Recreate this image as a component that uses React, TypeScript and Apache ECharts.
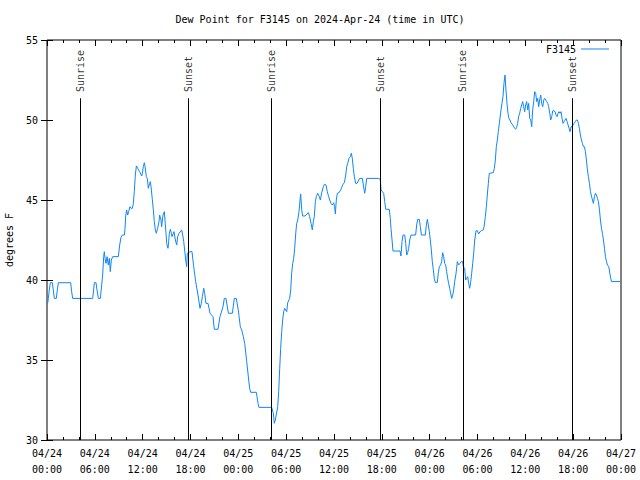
import React, { useEffect, useRef } from 'react';
import * as echarts from 'echarts';

const titleText = 'Dew Point for F3145 on 2024-Apr-24 (time in UTC)';
const seriesName = 'F3145';
const yAxisName = 'degrees F';

const xTickLabels = [
  '04/24\n00:00', '04/24\n06:00', '04/24\n12:00', '04/24\n18:00',
  '04/25\n00:00', '04/25\n06:00', '04/25\n12:00', '04/25\n18:00',
  '04/26\n00:00', '04/26\n06:00', '04/26\n12:00', '04/26\n18:00',
  '04/27\n00:00',
];

// hours since 2024-04-24 00:00 UTC
const hours = [
  0.08, 0.17, 0.29, 0.42, 0.67, 0.79, 0.92, 1.17, 1.3, 1.42, 2.97, 3.09, 3.22, 5.73, 5.85, 5.94, 6.15, 6.27, 6.44, 6.69,
  6.86, 6.98, 7.11, 7.19, 7.28, 7.4, 7.53, 7.69, 7.82, 7.94, 8.07, 8.24, 8.95, 9.12, 9.28, 9.45, 9.7, 9.78, 9.87, 9.99,
  10.12, 10.24, 10.41, 10.54, 10.7, 10.83, 10.95, 11.08, 11.21, 11.37, 11.62, 11.88, 11.96, 12.08, 12.21, 12.29, 12.46, 12.58, 12.71, 12.88,
  12.96, 13.05, 13.21, 13.34, 13.46, 13.59, 13.71, 13.88, 14.05, 14.13, 14.3, 14.38, 14.55, 14.72, 14.8, 14.93, 15.01, 15.18, 15.26, 15.35,
  15.47, 15.6, 15.68, 15.93, 16.1, 16.27, 16.39, 16.56, 16.9, 17.02, 17.15, 17.4, 17.52, 17.6, 17.94, 18.19, 18.4, 18.65, 18.94, 19.19,
  19.36, 19.49, 19.66, 19.78, 19.94, 20.2, 20.45, 20.82, 20.99, 21.45, 21.7, 22.08, 22.24, 22.45, 22.75, 23.25, 23.5, 23.75, 24.0, 24.25,
  24.42, 24.63, 24.8, 25.05, 25.3, 25.42, 25.55, 26.26, 26.47, 26.59, 28.18, 28.39, 28.51, 28.64, 28.94, 29.06, 29.19, 29.31, 29.44, 29.56,
  29.69, 29.81, 30.07, 30.19, 30.44, 30.57, 30.69, 30.82, 30.94, 31.07, 31.2, 31.32, 31.45, 31.61, 31.74, 31.82, 31.95, 32.07, 32.36, 32.78,
  32.95, 33.12, 33.28, 33.41, 33.53, 33.66, 33.78, 33.95, 34.16, 34.29, 34.46, 34.66, 34.79, 35.0, 35.16, 35.33, 35.46, 35.62, 35.79, 35.96,
  36.08, 36.17, 36.29, 36.42, 36.63, 36.84, 37.0, 37.13, 37.3, 37.47, 37.59, 37.72, 37.88, 38.05, 38.17, 38.3, 38.42, 38.55, 38.72, 38.89,
  39.22, 39.55, 39.68, 39.85, 39.98, 40.1, 41.56, 41.81, 41.9, 42.06, 42.23, 42.36, 42.49, 42.94, 43.06, 43.15, 43.28, 43.4, 44.28, 44.4,
  44.53, 44.66, 44.87, 45.0, 45.12, 45.24, 45.37, 45.5, 45.66, 46.24, 46.37, 46.5, 46.71, 46.83, 46.96, 47.46, 47.58, 47.71, 47.83, 47.96,
  48.08, 48.21, 48.33, 48.46, 48.58, 48.71, 48.96, 49.08, 49.21, 49.38, 49.5, 49.63, 49.76, 49.88, 50.0, 50.13, 50.26, 50.38, 50.51, 50.63,
  50.76, 50.89, 51.01, 51.14, 51.31, 51.47, 51.64, 51.81, 51.97, 52.14, 52.22, 52.39, 52.52, 52.64, 52.77, 52.89, 53.02, 53.15, 53.27, 53.4,
  53.52, 53.65, 53.81, 53.98, 54.15, 54.31, 54.48, 54.73, 54.86, 54.98, 55.11, 55.23, 55.36, 55.48, 55.99, 56.11, 56.24, 56.36, 56.49, 56.61,
  56.74, 56.95, 57.07, 57.2, 57.32, 57.45, 57.57, 57.7, 57.82, 57.95, 58.07, 58.2, 58.33, 58.49, 58.66, 58.79, 58.91, 59.04, 59.16, 59.29,
  59.42, 59.54, 59.67, 59.79, 59.92, 60.04, 60.17, 60.3, 60.42, 60.55, 60.67, 60.8, 60.92, 61.05, 61.17, 61.3, 61.43, 61.55, 61.68, 61.8,
  61.93, 62.05, 62.18, 62.31, 62.43, 62.56, 62.68, 62.81, 62.93, 63.06, 63.18, 63.31, 63.44, 63.56, 63.73, 63.85, 63.98, 64.11, 64.23, 64.36,
  64.48, 64.61, 64.73, 64.86, 64.98, 65.11, 65.24, 65.36, 65.49, 65.61, 65.74, 65.86, 65.99, 66.12, 66.28, 66.41, 66.53, 66.66, 66.78, 66.91,
  67.04, 67.16, 67.29, 67.41, 67.54, 67.66, 67.79, 67.91, 68.04, 68.17, 68.29, 68.42, 68.54, 68.67, 68.79, 68.92, 69.05, 69.17, 69.3, 69.42,
  69.55, 69.67, 69.8, 69.93, 70.05, 70.18, 70.3, 70.47, 70.6, 70.72, 70.8, 71.93,
];

const dewPointF = [
  38.54, 38.85, 39.38, 39.83, 39.83, 39.38, 38.85, 38.85, 39.38, 39.83, 39.83, 39.27, 38.85, 38.85, 39.38, 39.83, 39.83, 39.38, 38.85, 38.85,
  39.69, 40.31, 41.46, 41.77, 41.35, 41.04, 41.46, 40.94, 41.35, 40.52, 41.25, 41.46, 41.46, 42.19, 42.67, 42.81, 42.81, 43.17, 44.0, 44.38,
  44.06, 44.27, 44.58, 44.48, 44.48, 44.79, 45.52, 46.56, 47.13, 46.98, 46.77, 46.5, 46.67, 47.08, 47.33, 47.13, 46.46, 46.35, 45.73, 46.04,
  46.15, 45.83, 45.04, 44.38, 43.65, 43.13, 42.92, 43.23, 43.65, 44.06, 43.75, 43.33, 44.06, 44.27, 43.75, 42.92, 42.29, 41.98, 42.4, 42.92,
  43.17, 42.92, 42.71, 43.02, 42.5, 42.19, 42.71, 42.92, 43.13, 42.81, 42.4, 41.25, 40.83, 41.67, 41.77, 41.77, 40.83, 39.9, 39.06, 38.23,
  38.54, 38.96, 39.48, 39.17, 38.54, 38.54, 37.92, 37.71, 36.92, 36.92, 37.71, 38.33, 38.85, 38.85, 37.92, 37.92, 38.85, 38.85, 38.1, 37.08,
  36.88, 36.46, 36.04, 34.9, 33.75, 33.23, 32.98, 32.98, 32.29, 32.04, 32.04, 31.67, 31.04, 31.25, 32.08, 33.02, 34.48, 35.73, 36.77, 37.5,
  38.02, 38.23, 38.02, 38.58, 38.85, 39.38, 40.42, 41.04, 41.35, 41.98, 42.92, 43.54, 43.75, 44.27, 45.0, 45.38, 44.38, 44.0, 44.0, 44.21,
  43.96, 43.54, 43.13, 43.65, 43.96, 44.9, 45.21, 45.42, 45.21, 45.0, 45.46, 45.83, 45.98, 45.94, 45.52, 45.21, 45.0, 44.79, 44.69, 44.83,
  44.58, 44.13, 45.0, 45.42, 45.46, 45.63, 45.83, 45.98, 46.08, 46.56, 47.08, 47.29, 47.6, 47.71, 47.92, 47.6, 46.98, 46.46, 46.04, 46.04,
  46.35, 46.35, 45.94, 45.42, 45.83, 46.35, 46.35, 46.29, 45.63, 45.52, 45.42, 44.9, 44.42, 44.42, 43.85, 43.23, 42.5, 41.81, 41.81, 41.5,
  42.4, 42.81, 42.81, 42.29, 41.56, 41.71, 41.98, 42.5, 42.81, 42.81, 43.44, 43.79, 43.79, 43.33, 42.81, 42.81, 43.44, 43.79, 43.44, 43.02,
  42.5, 41.88, 41.15, 40.63, 40.1, 39.85, 39.85, 40.42, 40.83, 40.94, 41.15, 41.71, 41.46, 41.04, 40.94, 40.52, 40.1, 39.79, 39.48, 39.17,
  38.85, 39.06, 39.38, 39.9, 40.42, 41.15, 40.94, 41.04, 41.15, 41.15, 40.83, 40.73, 40.0, 40.1, 40.21, 39.79, 39.48, 39.9, 40.42, 41.04,
  41.67, 42.5, 43.08, 43.08, 42.88, 43.02, 43.08, 43.13, 43.44, 43.96, 44.58, 45.31, 46.04, 46.67, 46.71, 46.98, 47.5, 48.33, 48.75, 49.27,
  49.79, 50.63, 51.04, 51.46, 52.29, 52.81, 51.88, 51.04, 50.42, 50.1, 50.0, 49.83, 49.75, 49.63, 49.48, 49.42, 49.54, 49.79, 50.21, 50.42,
  50.73, 50.94, 51.15, 50.83, 50.52, 50.94, 51.15, 50.63, 51.04, 50.1, 50.0, 49.58, 50.63, 51.15, 51.77, 51.67, 51.15, 51.35, 50.83, 51.25,
  51.56, 51.04, 50.83, 51.25, 51.35, 51.25, 51.15, 51.04, 50.83, 50.42, 50.0, 50.21, 50.58, 50.58, 50.52, 50.31, 50.21, 50.42, 50.52, 50.42,
  50.52, 50.1, 49.79, 49.9, 50.0, 50.1, 49.9, 49.69, 49.48, 49.27, 49.58, 49.58, 49.69, 49.79, 49.9, 50.0, 50.0, 49.79, 49.48, 49.06,
  48.75, 48.54, 48.33, 48.33, 48.02, 47.5, 46.88, 46.46, 46.04, 45.52, 45.25, 45.0, 44.79, 45.21, 45.42, 45.31, 45.1, 44.9, 44.38, 43.75,
  43.23, 42.92, 42.5, 41.98, 41.46, 41.15, 40.94, 40.83, 40.42, 40.1, 39.9, 39.9,
];

const eventNames = ['Sunrise', 'Sunset', 'Sunrise', 'Sunset', 'Sunrise', 'Sunset'];
const eventHours = [4.15, 17.75, 28.1, 41.8, 52.18, 65.9];
const eventLineTop = 51.36;
const eventLabelAt = 51.75;

const FONT = 'DejaVu Sans Mono';
const LINE_COLOR = '#0f86f5';

export default function App() {
  const ref = useRef<HTMLDivElement>(null);
  useEffect(() => {
    if (!ref.current) return;
    const chart = echarts.init(ref.current, undefined, { renderer: 'svg' });
    const txt = { fontFamily: FONT, fontSize: 10, color: '#000' };
    const tick = { show: true, inside: true, length: 6, lineStyle: { color: '#000', width: 1 } };
    const minor = { show: true, splitNumber: 3, length: 3, lineStyle: { color: '#000', width: 1 } };
    const option: any = {
      animation: false,
      backgroundColor: '#fff',
      title: {
        text: titleText,
        left: 'center',
        top: 14,
        padding: [0, 0, 0, 28],
        textStyle: { ...txt, fontWeight: 'normal' },
      },
      legend: {
        data: [{ name: seriesName, icon: 'rect' }],
        right: 31,
        top: 44,
        align: 'right',
        itemWidth: 28,
        itemHeight: 1,
        padding: 0,
        textStyle: txt,
      },
      grid: {
        left: 47, right: 19, top: 40, bottom: 40,
        containLabel: false,
        outerBoundsMode: 'none',
        show: true, borderColor: '#000', borderWidth: 1,
      },
      xAxis: [
        {
          type: 'value', min: 0, max: 72, interval: 6, position: 'bottom',
          axisLine: { show: false },
          axisTick: tick,
          minorTick: minor,
          splitLine: { show: false },
          axisLabel: {
            ...txt, margin: 5, lineHeight: 16,
            formatter: (v: number) => xTickLabels[Math.round(v / 6)] ?? '',
          },
        },
        {
          type: 'value', min: 0, max: 72, interval: 6, position: 'top',
          axisLine: { show: false },
          axisTick: tick,
          minorTick: minor,
          splitLine: { show: false },
          axisLabel: { show: false },
        },
      ],
      yAxis: [
        {
          type: 'value', min: 30, max: 55, interval: 5, position: 'left',
          name: yAxisName, nameLocation: 'middle', nameGap: 33, nameRotate: 90,
          nameTextStyle: txt,
          axisLine: { show: false },
          axisTick: tick,
          splitLine: { show: false },
          axisLabel: { ...txt, margin: 9 },
        },
        {
          type: 'value', min: 30, max: 55, interval: 5, position: 'right',
          axisLine: { show: false },
          axisTick: tick,
          splitLine: { show: false },
          axisLabel: { show: false },
        },
      ],
      series: [
        {
          type: 'line',
          name: seriesName,
          xAxisIndex: 0,
          yAxisIndex: 0,
          data: hours.map((h, i) => [h, dewPointF[i]]),
          symbol: 'none',
          showSymbol: false,
          lineStyle: { color: LINE_COLOR, width: 1 },
          itemStyle: { color: LINE_COLOR },
          markLine: {
            silent: true,
            symbol: ['none', 'none'],
            label: { show: false },
            lineStyle: { color: '#000', width: 1, type: 'solid' },
            data: eventHours.map((h) => [{ coord: [h, 30] }, { coord: [h, eventLineTop] }]),
          },
        },
        {
          type: 'scatter',
          name: 'events',
          xAxisIndex: 0,
          yAxisIndex: 0,
          silent: true,
          clip: false,
          symbolSize: 0,
          data: eventHours.map((h, i) => ({ name: eventNames[i], value: [h, eventLabelAt] })),
          label: {
            show: true,
            formatter: '{b}',
            rotate: 90,
            position: 'inside',
            align: 'left',
            verticalAlign: 'middle',
            ...txt,
          },
        },
      ],
    };
    chart.setOption(option);
    return () => chart.dispose();
  }, []);
  return <div ref={ref} style={{ position: 'fixed', left: 0, top: 0, width: 640, height: 480 }} />;
}
